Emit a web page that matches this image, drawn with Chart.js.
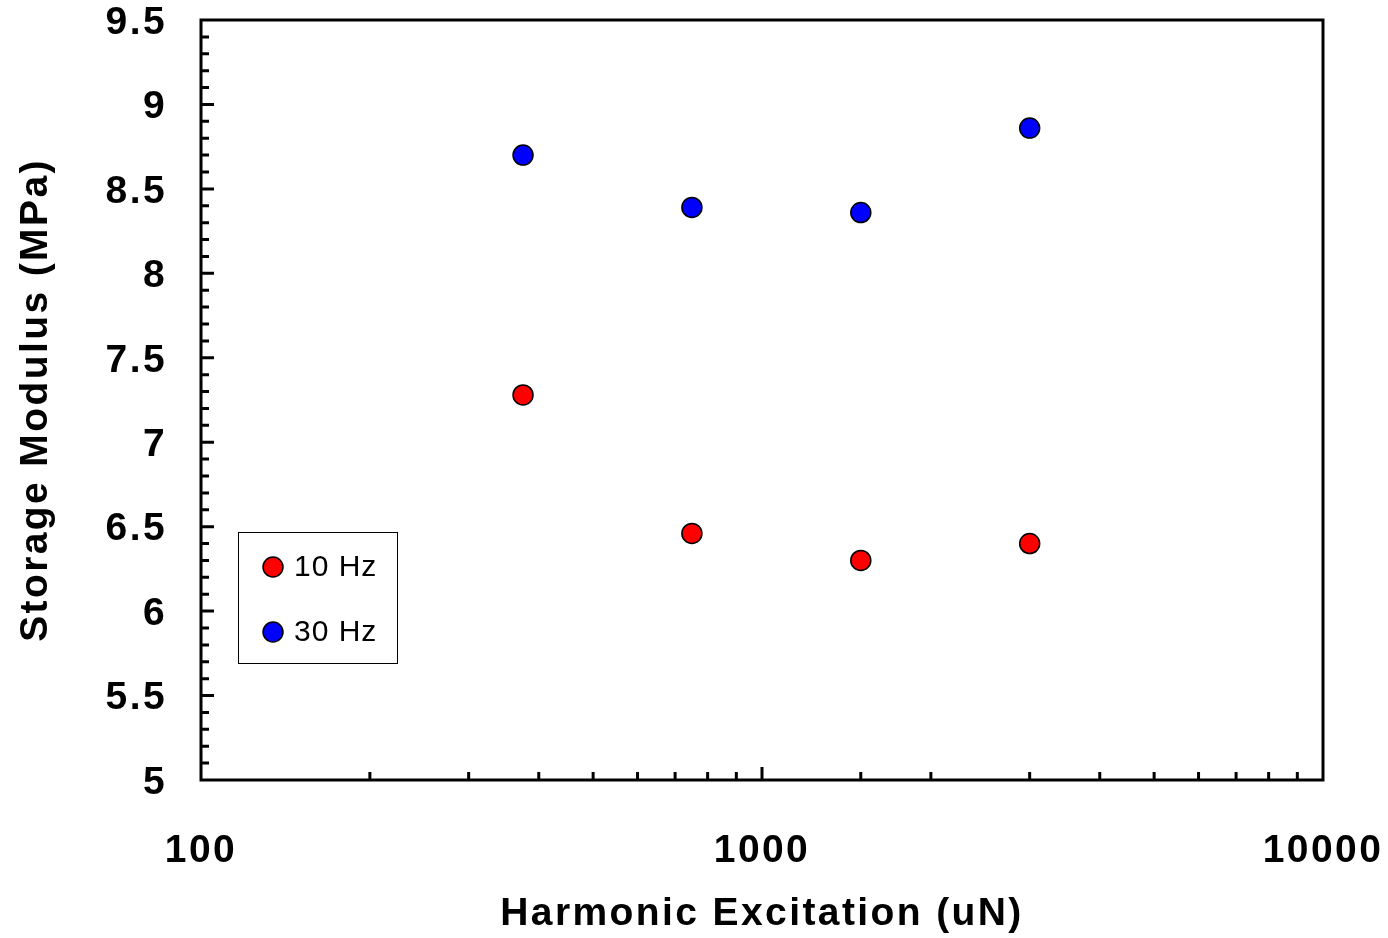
<!DOCTYPE html>
<html>
<head>
<meta charset="utf-8">
<script src="https://cdn.jsdelivr.net/npm/chart.js@4/dist/chart.umd.min.js"></script>
<style>
  html, body { margin: 0; padding: 0; background: #fff; }
  #wrap { width: 1388px; height: 938px; }
</style>
</head>
<body>
<div id="wrap"><canvas id="chart" width="1388" height="938"></canvas></div>
<script>
// values
const excitation = [375, 750, 1500, 3000];
const modulus10Hz = [7.28, 6.46, 6.30, 6.40];
const modulus30Hz = [8.70, 8.39, 8.36, 8.86];
const seriesLabels = ["10 Hz", "30 Hz"];
const seriesColors = ["#FF0000", "#0000FF"];

const FONT = "'Liberation Sans', Arial, sans-serif";

function toPoints(xs, ys) {
    return xs.map(function (x, i) { return { x: x, y: ys[i] }; });
}

// ticks pointing into the plot, plus the box round it
const axesPlugin = {
    id: "axes",
    beforeDraw: function (chart) {
        chart.ctx.letterSpacing = "2.4px";
        // nudge the y labels down a touch, like the original
        chart.scales.y.getLabelItems().forEach(function (it) {
            if (!it._nudged) {
                it.options.translation[1] += 3;
                it._nudged = true;
            }
        });
    },
    beforeDatasetsDraw: function (chart) {
        const ctx = chart.ctx;
        const a = chart.chartArea;
        const xs = chart.scales.x;
        const ys = chart.scales.y;
        ctx.save();
        ctx.strokeStyle = "#000";
        ctx.lineWidth = 3;
        ctx.lineCap = "butt";
        ctx.beginPath();
        // y ticks every 0.1, longer on the 0.5 marks
        const steps = Math.round((ys.max - ys.min) * 10);
        for (let i = 1; i < steps; i++) {
            const py = ys.getPixelForValue(ys.min + i / 10);
            const len = i % 5 === 0 ? 13 : 8;
            ctx.moveTo(a.left, py);
            ctx.lineTo(a.left + len, py);
        }
        // x ticks from the log scale
        xs.ticks.forEach(function (t) {
            if (t.value <= xs.min || t.value >= xs.max) return;
            const px = xs.getPixelForValue(t.value);
            const major = Math.abs(Math.log10(t.value) % 1) < 1e-9;
            ctx.moveTo(px, a.bottom);
            ctx.lineTo(px, a.bottom - (major ? 13 : 8));
        });
        ctx.stroke();
        ctx.strokeRect(a.left, a.top, a.right - a.left, a.bottom - a.top);
        ctx.restore();
    },
    afterDraw: function (chart) {
        const ctx = chart.ctx;
        const a = chart.chartArea;
        const bx = a.left + 37, by = a.top + 512, bw = 159, bh = 131;
        ctx.save();
        ctx.letterSpacing = "1px";
        ctx.fillStyle = "#fff";
        ctx.fillRect(bx, by, bw, bh);
        ctx.strokeStyle = "#000";
        ctx.lineWidth = 1;
        ctx.strokeRect(bx + 0.5, by + 0.5, bw, bh);
        ctx.font = "30px " + FONT;
        ctx.textBaseline = "middle";
        ctx.textAlign = "left";
        chart.data.datasets.forEach(function (ds, i) {
            const cy = by + 35 + i * 65;
            ctx.beginPath();
            ctx.arc(bx + 35, cy, 10, 0, Math.PI * 2);
            ctx.fillStyle = ds.backgroundColor;
            ctx.fill();
            ctx.lineWidth = 1.5;
            ctx.strokeStyle = "#000";
            ctx.stroke();
            ctx.fillStyle = "#000";
            ctx.fillText(ds.label, bx + 56, cy + 1);
        });
        ctx.restore();
    }
};

new Chart("chart", {
    type: "scatter",
    data: {
        datasets: [{
            label: seriesLabels[0],
            data: toPoints(excitation, modulus10Hz),
            backgroundColor: seriesColors[0],
            borderColor: "#000",
            borderWidth: 1.5,
            pointRadius: 10,
            pointHoverRadius: 10,
        }, {
            label: seriesLabels[1],
            data: toPoints(excitation, modulus30Hz),
            backgroundColor: seriesColors[1],
            borderColor: "#000",
            borderWidth: 1.5,
            pointRadius: 10,
            pointHoverRadius: 10,
        }]
    },
    options: {
        responsive: false,
        animation: false,
        layout: { padding: { top: 20, right: 65, left: 0, bottom: 0 } },
        plugins: {
            legend: { display: false },
            tooltip: { enabled: false },
        },
        scales: {
            x: {
                type: "logarithmic",
                min: 100,
                max: 10000,
                grid: { display: false, drawTicks: false },
                border: { display: false },
                ticks: {
                    autoSkip: false,
                    maxRotation: 0,
                    padding: 48,
                    color: "#000",
                    font: { family: FONT, size: 39, weight: "bold" },
                    callback: function (v) {
                        return Math.abs(Math.log10(v) % 1) < 1e-9 ? String(v) : "";
                    }
                },
                title: {
                    display: true,
                    text: "Harmonic Excitation (uN)",
                    color: "#000",
                    font: { family: FONT, size: 39, weight: "bold" },
                    padding: { top: 0, bottom: 0 }
                },
                afterFit: function (s) {
                    s.height = 158;
                    s.paddingLeft = 0;
                    s.paddingRight = 0;
                }
            },
            y: {
                min: 5,
                max: 9.5,
                grid: { display: false, drawTicks: false },
                border: { display: false },
                ticks: {
                    stepSize: 0.5,
                    padding: 34,
                    color: "#000",
                    font: { family: FONT, size: 39, weight: "bold" },
                    callback: function (v) { return String(v); }
                },
                title: {
                    display: true,
                    text: "Storage Modulus (MPa)",
                    color: "#000",
                    font: { family: FONT, size: 39, weight: "bold" },
                    padding: { top: 13, bottom: 0 }
                },
                afterFit: function (s) {
                    s.width = 201;
                    s.paddingTop = 0;
                    s.paddingBottom = 0;
                }
            }
        }
    },
    plugins: [axesPlugin]
});
</script>
</body>
</html>
